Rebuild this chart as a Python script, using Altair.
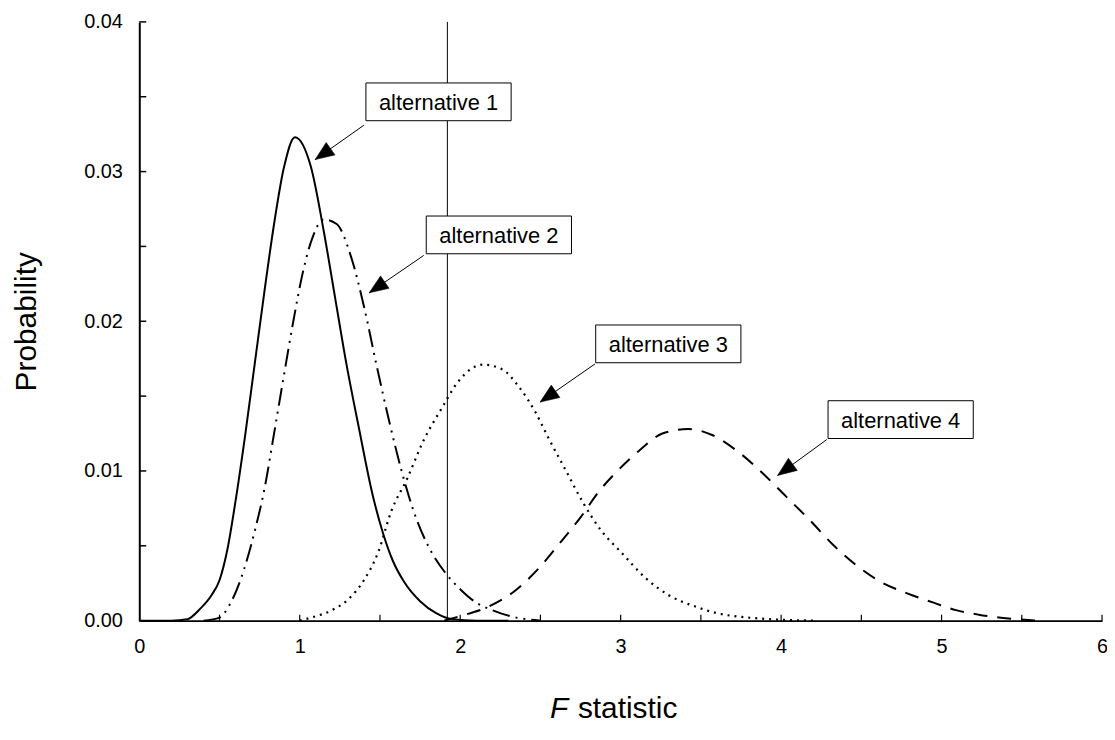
import math
import altair as alt
import pandas as pd

# ---- curve data ----
x_alt1 = [0.0, 0.2, 0.3, 0.38, 0.45, 0.50, 0.55, 0.60, 0.66, 0.72, 0.78, 0.84, 0.90, 0.97,
          1.07, 1.15, 1.22, 1.29, 1.37, 1.45, 1.52, 1.58, 1.65, 1.75, 1.85, 1.95, 2.1, 2.3]
y_alt1 = [0.0, 0.0, 0.0001, 0.0008, 0.0017, 0.0027, 0.0048, 0.0080, 0.0124, 0.0172, 0.0220, 0.0265, 0.0302, 0.0323,
          0.0303, 0.0260, 0.0216, 0.0172, 0.0128, 0.0086, 0.0058, 0.0040, 0.0026, 0.0013, 0.0005, 0.0001, 0.0, 0.0]

x_alt2 = [0.4, 0.5, 0.56, 0.63, 0.72, 0.78, 0.84, 0.90, 0.96, 1.02, 1.08, 1.15, 1.23,
          1.32, 1.40, 1.48, 1.56, 1.64, 1.72, 1.80, 1.90, 2.0, 2.1, 2.2, 2.31, 2.5]
y_alt2 = [0.0, 0.0002, 0.0010, 0.0027, 0.0060, 0.0088, 0.0125, 0.0163, 0.0200, 0.0233, 0.0256, 0.0268, 0.0265,
          0.0243, 0.0210, 0.0170, 0.0132, 0.0098, 0.0070, 0.0050, 0.0033, 0.0021, 0.0012, 0.0007, 0.0003, 0.0]

x_alt3 = [1.0, 1.07, 1.20, 1.30, 1.40, 1.49, 1.57, 1.67, 1.77, 1.88, 1.99, 2.14, 2.26, 2.36,
          2.47, 2.55, 2.66, 2.77, 2.88, 3.00, 3.15, 3.30, 3.45, 3.6, 3.8, 4.2]
y_alt3 = [0.0, 0.0002, 0.0007, 0.0014, 0.0027, 0.0046, 0.0073, 0.0095, 0.0120, 0.0141, 0.0160, 0.0171, 0.0168, 0.0157,
          0.0139, 0.0122, 0.0100, 0.0078, 0.0060, 0.0046, 0.0029, 0.0017, 0.0010, 0.0005, 0.0002, 0.0]

x_alt4 = [1.9, 2.0, 2.17, 2.33, 2.49, 2.63, 2.75, 2.87, 2.98, 3.12, 3.26, 3.42, 3.57, 3.73,
          3.88, 4.03, 4.18, 4.33, 4.48, 4.62, 4.79, 4.95, 5.09, 5.23, 5.37, 5.6]
y_alt4 = [0.0, 0.0003, 0.0009, 0.0019, 0.0035, 0.0053, 0.0069, 0.0087, 0.0100, 0.0114, 0.0125, 0.0128, 0.0124, 0.0113,
          0.0099, 0.0083, 0.0067, 0.0050, 0.0036, 0.0026, 0.0018, 0.0012, 0.0007, 0.0004, 0.0002, 0.0]

critical_f = [1.92]

# ---- annotations ----
label_text = ["alternative 1", "alternative 2", "alternative 3", "alternative 4"]
label_x = [1.865, 2.241, 3.297, 4.745]
label_y = [0.03466, 0.02577, 0.01849, 0.01343]
arrow_from_x = [1.40, 1.773, 2.84, 4.285]
arrow_from_y = [0.0331, 0.0244, 0.01715, 0.0121]
arrow_to_x = [1.096, 1.433, 2.498, 3.978]
arrow_to_y = [0.0308, 0.0219, 0.0146, 0.0097]

x_tick_labels = [0, 1, 2, 3, 4, 5, 6]
y_tick_labels = [0.0, 0.01, 0.02, 0.03, 0.04]
x_minor = [0.5, 1.0, 1.5, 2.0, 2.5, 3.0, 3.5, 4.0, 4.5, 5.0, 5.5, 6.0]
y_minor = [0.005, 0.01, 0.015, 0.02, 0.025, 0.03, 0.035, 0.04]

# ---- layout ----
W, H = 968, 602
XMAX, YMAX = 6.0, 0.04
FONT = "Liberation Sans"

rows = []
for name, xs_, ys_ in [("alt1", x_alt1, y_alt1), ("alt2", x_alt2, y_alt2),
                       ("alt3", x_alt3, y_alt3), ("alt4", x_alt4, y_alt4)]:
    for a, b in zip(xs_, ys_):
        rows.append({"series": name, "F": a, "p": b})
curves = pd.DataFrame(rows)

angles = []
for fx, fy, tx, ty in zip(arrow_from_x, arrow_from_y, arrow_to_x, arrow_to_y):
    dx = (tx - fx) * W / XMAX
    dy = -(ty - fy) * H / YMAX
    angles.append(math.degrees(math.atan2(dy, dx)) % 360)

ann = pd.DataFrame({
    "label": label_text, "cx": label_x, "cy": label_y,
    "sx": arrow_from_x, "sy": arrow_from_y, "tx": arrow_to_x, "ty": arrow_to_y,
    "ang": angles,
})

xs = alt.Scale(domain=[0, XMAX], nice=False, zero=False)
ys = alt.Scale(domain=[0, YMAX], nice=False)

xaxis = alt.Axis(values=x_tick_labels, format="d", labelFont=FONT, labelFontSize=20,
                 labelColor="black", labelPadding=16, ticks=False, tickSize=0,
                 domainColor="black", domainWidth=2, grid=False, title=None,
                 labelFlush=False)
yaxis = alt.Axis(values=y_tick_labels, format=".2f", labelFont=FONT, labelFontSize=20,
                 labelColor="black", labelPadding=17, ticks=False, tickSize=0,
                 domainColor="black", domainWidth=2, grid=False, title="Probability",
                 titleFont=FONT, titleFontSize=30, titleFontWeight="normal",
                 titleColor="black", titleX=-113, titleY=H / 2, titleBaseline="middle",
                 titleAlign="center", titleAngle=270)


def X(field):
    return alt.X(field, type="quantitative", scale=xs, axis=xaxis)


def Y(field):
    return alt.Y(field, type="quantitative", scale=ys, axis=yaxis)


def curve(name, dash=None, width=2.0):
    kw = dict(color="black", strokeWidth=width, interpolate="monotone")
    if dash is not None:
        kw["strokeDash"] = dash
    return (alt.Chart(curves).transform_filter(alt.datum.series == name)
            .mark_line(**kw).encode(x=X("F"), y=Y("p")))


c1 = curve("alt1", None, 2.0)
c2 = curve("alt2", [18, 6, 2, 6, 2, 6], 2.0)
c3 = curve("alt3", [2, 5], 2.2)
c4 = curve("alt4", [14, 10], 2.0)

crit = alt.Chart(pd.DataFrame({"f": critical_f, "y0": [0.0], "y1": [YMAX]})).mark_rule(
    color="black", strokeWidth=1).encode(x=X("f"), y=Y("y0"), y2="y1")

yticks = alt.Chart(pd.DataFrame({"v": y_minor})).mark_rule(color="black", strokeWidth=1.5).encode(
    y=Y("v"), x=alt.value(0), x2=alt.value(7))
xticks = alt.Chart(pd.DataFrame({"v": x_minor})).mark_rule(color="black", strokeWidth=1.2).encode(
    x=X("v"), y=alt.value(H), y2=alt.value(H - 6))

box_path = "M-1,-0.26L1,-0.26L1,0.26L-1,0.26Z"
boxes = alt.Chart(ann).mark_point(shape=box_path, size=146 * 146, filled=True, fill="white",
                                  stroke="black", strokeWidth=1, opacity=1).encode(
    x=X("cx"), y=Y("cy"))
texts = alt.Chart(ann).mark_text(font=FONT, fontSize=22, color="black", align="center",
                                 baseline="middle", dy=1).encode(
    x=X("cx"), y=Y("cy"), text="label:N")
arrows = alt.Chart(ann).mark_rule(color="black", strokeWidth=1).encode(
    x=X("sx"), y=Y("sy"), x2="tx", y2="ty")
heads = alt.Chart(ann).mark_point(shape="M0,0L-1,-0.4L-1,0.4Z", size=38 * 38, filled=True,
                                  fill="black", stroke="black", strokeWidth=0.5, opacity=1).encode(
    x=X("tx"), y=Y("ty"), angle=alt.Angle("ang:Q", scale=None))

tdf = pd.DataFrame({"x": [3.0]})
t_f = alt.Chart(tdf).mark_text(text="F", font=FONT, fontSize=30, fontStyle="italic", color="black",
                               align="left", baseline="alphabetic", dx=-71).encode(
    x=X("x"), y=alt.value(H + 98))
t_stat = alt.Chart(tdf).mark_text(text="statistic", font=FONT, fontSize=30, color="black",
                                  align="left", baseline="alphabetic", dx=-43).encode(
    x=X("x"), y=alt.value(H + 98))

chart = alt.layer(
    crit, yticks, xticks, c1, c2, c3, c4, arrows, boxes, texts, heads, t_f, t_stat
).properties(
    width=W, height=H,
    autosize=alt.AutoSizeParams(type="none"),
    padding={"left": 132, "top": 12, "right": 5, "bottom": 110},
    background="white",
).configure_view(stroke=None).configure_text(font=FONT)

chart.save("out.html", embed_options={"renderer": "svg", "actions": False})
